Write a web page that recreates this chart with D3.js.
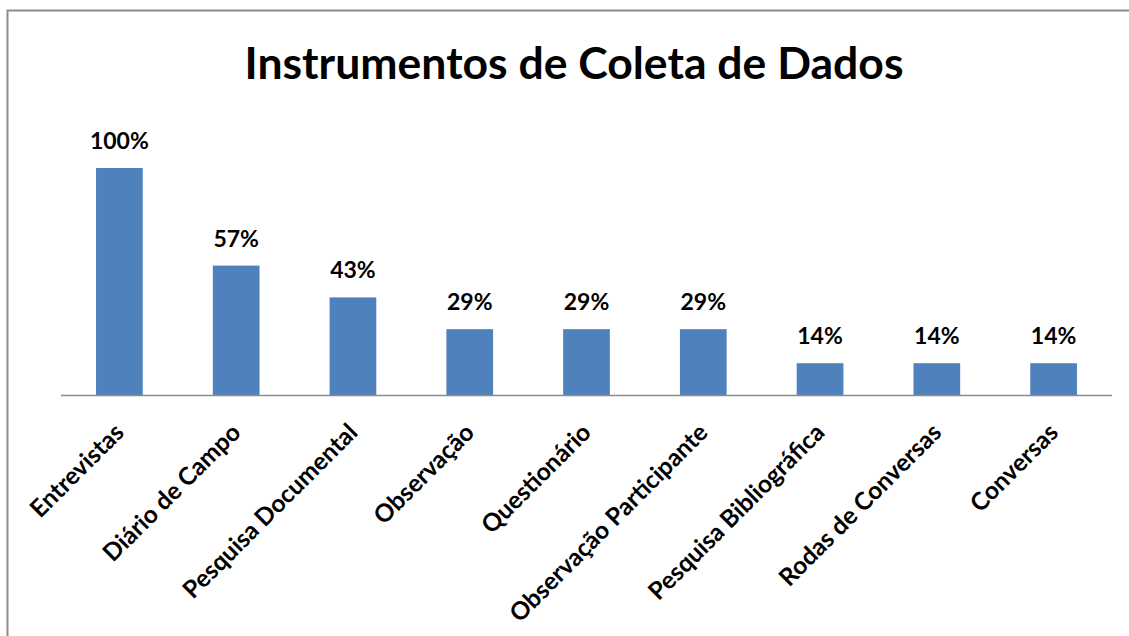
<!DOCTYPE html>
<html>
<head>
<meta charset="utf-8">
<script src="https://cdn.jsdelivr.net/npm/d3@7"></script>
<style>
  body { margin: 0; background: #fff; }
  text { font-family: Lato, "Open Sans", sans-serif; font-weight: bold; fill: #000; }
</style>
</head>
<body>
<svg id="chart" width="1129" height="636"></svg>
<script>
var categories = ["Entrevistas", "Diário de Campo", "Pesquisa Documental", "Observação",
  "Questionário", "Observação Participante", "Pesquisa Bibliográfica", "Rodas de Conversas", "Conversas"]
var values = [100, 57, 43, 29, 29, 29, 14, 14, 14]
var title = "Instrumentos de Coleta de Dados"

var svg = d3.select("#chart")

// outer frame (only top and left edges show in the picture)
svg.append("path")
    .attr("d", "M7.5,636 L7.5,10.5 L1129,10.5")
    .style("fill", "none")
    .style("stroke", "#8c8c8c")
    .style("stroke-width", 2)

var x = d3.scaleBand()
    .domain(categories)
    .range([61, 1112])
    .paddingInner(0.6)
    .paddingOuter(0.3)

var y = d3.scaleLinear()
    .domain([0, 100])
    .range([395, 168])

svg.append("text")
    .attr("x", 574).attr("y", 79)
    .attr("text-anchor", "middle")
    .style("font-size", "44.5px")
    .text(title)

var g = svg.selectAll("g.bar")
    .data(categories)
    .enter().append("g").attr("class", "bar")

g.append("rect")
    .attr("x", function(d) { return x(d) })
    .attr("width", x.bandwidth())
    .attr("y", function(d, i) { return y(values[i]) })
    .attr("height", function(d, i) { return y(0) - y(values[i]) })
    .style("fill", "#4f81bd")

g.append("text")
    .attr("x", function(d) { return x(d) + x.bandwidth() / 2 })
    .attr("y", function(d, i) { return y(values[i]) - 19 })
    .attr("text-anchor", "middle")
    .style("font-size", "23px")
    .text(function(d, i) { return values[i] + "%" })

// baseline
svg.append("line")
    .attr("x1", 61).attr("x2", 1112)
    .attr("y1", 395.5).attr("y2", 395.5)
    .style("stroke", "#8c8c8c")
    .style("stroke-width", 1.5)

g.append("text")
    .attr("transform", function(d) {
        return "translate(" + (x(d) + x.bandwidth() / 2 + 6) + ",434) rotate(-45)" })
    .attr("text-anchor", "end")
    .style("font-size", "24.5px")
    .text(function(d) { return d })
</script>
</body>
</html>
